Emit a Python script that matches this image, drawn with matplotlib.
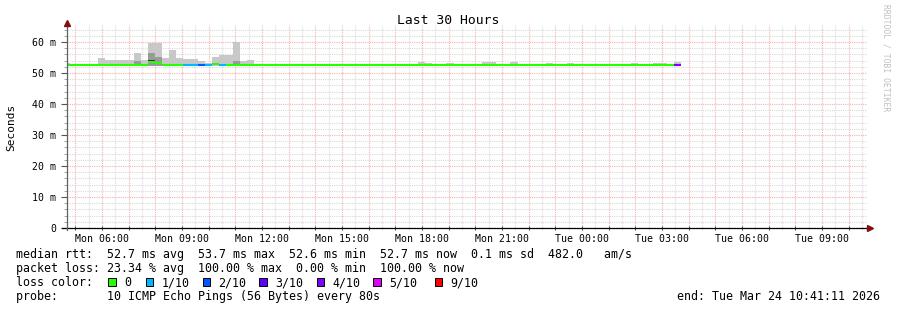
import matplotlib
matplotlib.use('Agg')
import matplotlib.pyplot as plt
import matplotlib.dates as mdates
from matplotlib.ticker import MultipleLocator, FuncFormatter
from matplotlib.patches import Rectangle
import pandas as pd

plt.rcParams['font.family'] = ['DejaVu Sans Mono']

# time window of the graph
t_start = '2026-03-23 04:41:11'
t_end = '2026-03-24 10:41:11'

# smoke: 16 min bins, start time and top of the ping spread (ms)
smoke_time = ['23 04:31', '23 05:51', '23 06:07', '23 06:23', '23 06:39', '23 06:55',
              '23 07:11', '23 07:27', '23 07:43', '23 07:59', '23 08:15', '23 08:31',
              '23 08:47', '23 09:03', '23 09:19', '23 09:35', '23 09:51', '23 10:07',
              '23 10:23', '23 10:39', '23 10:55', '23 11:11', '23 11:27', '23 17:51',
              '23 18:07', '23 18:55', '23 20:15', '23 20:31', '23 21:19', '23 22:39',
              '23 23:27', '24 01:51', '24 02:39', '24 02:55', '24 03:27']
smoke_top = [53.2, 54.8, 54.2, 54.2, 54.2, 54.2,
             56.5, 54.2, 59.8, 59.8, 54.8, 57.4,
             54.8, 54.4, 54.4, 53.8, 53.4, 55.3,
             55.9, 55.9, 60.1, 53.8, 54.2, 53.5,
             53.3, 53.4, 53.5, 53.5, 53.5, 53.4,
             53.2, 53.3, 53.3, 53.3, 53.6]
smoke_bottom = 52.4

# darker part of the smoke
mid_time = ['23 07:11', '23 07:43', '23 07:59', '23 10:55']
mid_top = [53.8, 56.4, 55.2, 53.8]
dark_time = ['23 07:43']
dark_top = [54.3]

# median rtt, step segments with loss count
med_start = ['23 04:41', '23 07:43', '23 07:59', '23 08:15', '23 09:03', '23 09:35',
             '23 09:51', '23 10:07', '23 10:23', '23 10:39', '24 03:27']
med_end = ['23 07:43', '23 07:59', '23 08:15', '23 09:03', '23 09:35', '23 09:51',
           '23 10:07', '23 10:23', '23 10:39', '24 03:27', '24 03:43']
med_value = [52.7, 53.6, 53.1, 52.7, 52.7, 52.7, 52.7, 53.0, 52.7, 52.7, 52.7]
med_loss = [0, 0, 0, 0, 1, 2, 1, 0, 1, 0, 4]

loss_labels = ['0', '1/10', '2/10', '3/10', '4/10', '5/10', '9/10']
loss_keys = [0, 1, 2, 3, 4, 5, 9]
loss_colors = ['#26ff00', '#00b8ff', '#0059ff', '#5e00ff', '#7e00ff', '#dd00ff', '#ff0000']
loss_col = dict(zip(loss_keys, loss_colors))


def tnum(lst):
    return mdates.date2num(pd.to_datetime(['2026-03-' + s for s in lst]))


W, H = 897, 310
fig = plt.figure(figsize=(W / 100, H / 100), dpi=100)
fig.patch.set_facecolor('white')
ax = fig.add_axes([67 / W, 82 / H, 800 / W, 203 / H])

binw = 16 / 1440
ax.bar(tnum(smoke_time), [v - smoke_bottom for v in smoke_top], width=binw, bottom=smoke_bottom,
       align='edge', color='#c8c8c8', zorder=2)
ax.bar(tnum(mid_time), [v - smoke_bottom for v in mid_top], width=binw, bottom=smoke_bottom,
       align='edge', color='#9a9a9a', zorder=2.1)
ax.bar(tnum(dark_time), [v - 53.2 for v in dark_top], width=binw, bottom=53.2,
       align='edge', color='#303030', zorder=2.2)

xs, xe = tnum(med_start), tnum(med_end)
for a, b, v, l in zip(xs, xe, med_value, med_loss):
    ax.hlines(v, a, b, colors=loss_col[l], lw=1.5, zorder=3)

ax.set_xlim(mdates.date2num(pd.Timestamp(t_start)), mdates.date2num(pd.Timestamp(t_end)))
ax.set_ylim(0, 65.5)

# grid
ax.xaxis.set_major_locator(mdates.HourLocator(interval=1))
ax.xaxis.set_minor_locator(mdates.MinuteLocator(byminute=[30]))
ax.yaxis.set_major_locator(MultipleLocator(10))
ax.yaxis.set_minor_locator(MultipleLocator(2))


def xfmt(v, p):
    d = mdates.num2date(v)
    return d.strftime('%a %H:%M') if d.hour % 3 == 0 else ''


ax.xaxis.set_major_formatter(FuncFormatter(xfmt))
ax.yaxis.set_major_formatter(FuncFormatter(lambda v, p: '0' if v == 0 else f'{v:.0f} m'))
ax.grid(which='major', color='#f5b0b0', linestyle=(0, (1, 1)), lw=0.8, zorder=0)
ax.grid(which='minor', color='#dadada', linestyle=(0, (1, 1)), lw=0.8, zorder=0)
ax.set_axisbelow(True)

ax.tick_params(axis='both', labelsize=7.1, colors='#000000')
ax.tick_params(axis='x', which='major', length=3, direction='inout', color='#555555', pad=3)
ax.tick_params(axis='x', which='minor', length=2, direction='inout', color='#999999')
ax.tick_params(axis='y', which='major', length=4, direction='out', color='#555555', pad=4)
ax.tick_params(axis='y', which='minor', length=2, direction='out', color='#999999')

for s in ['top', 'right', 'bottom', 'left']:
    ax.spines[s].set_visible(False)
ax.plot([-0.006, 1.0], [0, 0], transform=ax.transAxes, color='black', lw=0.9, clip_on=False, zorder=5)
ax.plot([0, 0], [-0.01, 1.01], transform=ax.transAxes, color='#606060', lw=0.9, clip_on=False, zorder=5)
ax.plot([1.004], [0], transform=ax.transAxes, marker='>', ms=4, color='#801010', clip_on=False, zorder=6)
ax.plot([0], [1.012], transform=ax.transAxes, marker='^', ms=4, color='#801010', clip_on=False, zorder=6)


def ft(x, y, s, **kw):
    fig.text(x / W, 1 - y / H, s, **kw)


ft(11, 127, 'Seconds', fontsize=8.0, rotation=90, ha='center', va='center')
ft(448, 24, 'Last 30 Hours', fontsize=9.4, ha='center', va='baseline')
ft(886, 4, 'RRDTOOL / TOBI OETIKER', fontsize=5.8, rotation=270, ha='center', va='top', color='#c0c0c0')

fs = 8.4
ft(16, 258, 'median rtt:  52.7 ms avg  53.7 ms max  52.6 ms min  52.7 ms now  0.1 ms sd  482.0   am/s',
   fontsize=fs, va='baseline')
ft(16, 272, 'packet loss: 23.34 % avg  100.00 % max  0.00 % min  100.00 % now', fontsize=fs, va='baseline')
ft(16, 286, 'loss color:', fontsize=fs, va='baseline')
box_x = [108.3, 145.7, 202.7, 259.3, 316.7, 373.3, 435]
for bx, lab, c in zip(box_x, loss_labels, loss_colors):
    fig.patches.append(Rectangle((bx / W, 1 - 285.7 / H), 7.3 / W, 7.3 / H, transform=fig.transFigure,
                                 facecolor=c, edgecolor='black', lw=0.7))
    ft(bx + 15.7, 286, lab, fontsize=fs, va='baseline')
ft(16, 300, 'probe:       10 ICMP Echo Pings (56 Bytes) every 80s', fontsize=fs, va='baseline')
ft(880, 300, 'end: Tue Mar 24 10:41:11 2026', fontsize=fs, va='baseline', ha='right')

fig.savefig('out.png', dpi=100)
